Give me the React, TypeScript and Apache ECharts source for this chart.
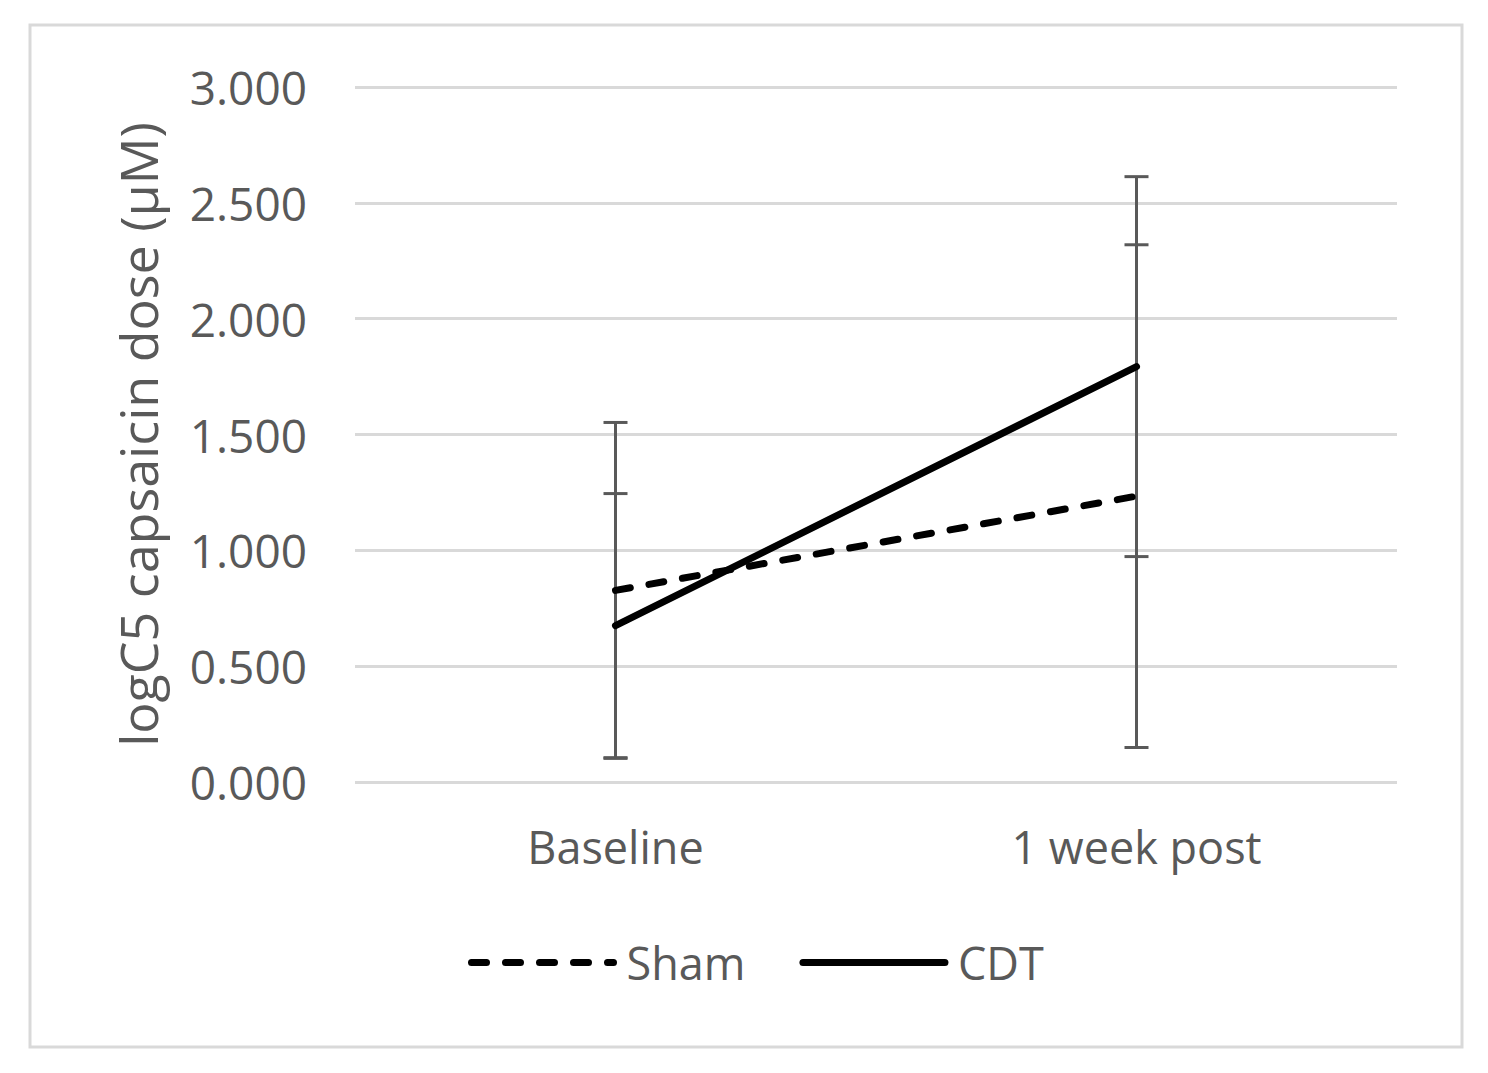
import React, { useEffect, useRef } from "react";
import * as echarts from "echarts";

const categories = ["Baseline", "1 week post"];
const shamMean = [0.827, 1.234];
const shamErr = [0.725, 1.085];
const cdtMean = [0.675, 1.793];
const cdtErr = [0.57, 0.82];
const yTicks = { min: 0, max: 3, interval: 0.5 };

const FONT = "Open Sans";
const GREY = "#595959";

export default function App() {
  const ref = useRef<HTMLDivElement>(null);
  useEffect(() => {
    const chart = echarts.init(ref.current!, undefined, { renderer: "svg" });
    const errData = [
      ...shamMean.map((m, i) => [i, m - shamErr[i], m + shamErr[i]]),
      ...cdtMean.map((m, i) => [i, m - cdtErr[i], m + cdtErr[i]]),
    ];
    const errStyle = { stroke: GREY, lineWidth: 3 };
    chart.setOption({
      animation: false,
      textStyle: { fontFamily: FONT },
      graphic: [
        {
          type: "rect",
          shape: { x: 30, y: 25, width: 1432, height: 1022 },
          style: { fill: "none", stroke: "#d9d9d9", lineWidth: 3 },
        },
      ],
      grid: { left: 355, right: 91, top: 87, bottom: 291 },
      legend: {
        data: ["Sham", "CDT"],
        left: 463,
        top: 935,
        itemWidth: 142,
        itemHeight: 44,
        itemGap: 54,
        itemStyle: { opacity: 0 },
        lineStyle: { width: 7, cap: "round" },
        textStyle: { fontSize: 45, color: GREY, fontFamily: FONT, padding: [0, 0, 0, 8] },
      },
      xAxis: {
        type: "category",
        data: categories,
        axisLine: { show: false },
        axisTick: { show: false },
        axisLabel: { fontSize: 45, color: GREY, margin: 42, fontFamily: FONT },
      },
      yAxis: {
        type: "value",
        min: yTicks.min,
        max: yTicks.max,
        interval: yTicks.interval,
        axisLabel: {
          fontSize: 46,
          color: GREY,
          margin: 48,
          fontFamily: FONT,
          formatter: (v: number) => v.toFixed(3),
        },
        splitLine: { lineStyle: { color: "#d9d9d9", width: 3 } },
        name: "logC5 capsaicin dose (µM)",
        nameLocation: "middle",
        nameGap: 192,
        nameTextStyle: { fontSize: 52, color: GREY, fontFamily: FONT },
      },
      series: [
        {
          type: "custom",
          name: "errors",
          z: 1,
          data: errData,
          renderItem: (params: any, api: any) => {
            const x = api.value(0);
            const lo = api.coord([x, api.value(1)]);
            const hi = api.coord([x, api.value(2)]);
            const hw = 12;
            return {
              type: "group",
              children: [
                { type: "line", shape: { x1: lo[0], y1: lo[1], x2: hi[0], y2: hi[1] }, style: errStyle },
                { type: "line", shape: { x1: lo[0] - hw, y1: lo[1], x2: lo[0] + hw, y2: lo[1] }, style: errStyle },
                { type: "line", shape: { x1: hi[0] - hw, y1: hi[1], x2: hi[0] + hw, y2: hi[1] }, style: errStyle },
              ],
            };
          },
        },
        {
          type: "line",
          name: "Sham",
          z: 3,
          data: shamMean,
          symbol: "none",
          itemStyle: { color: "#000" },
          lineStyle: { color: "#000", width: 7, type: [15, 19], cap: "round" },
        },
        {
          type: "line",
          name: "CDT",
          z: 3,
          data: cdtMean,
          symbol: "none",
          itemStyle: { color: "#000" },
          lineStyle: { color: "#000", width: 7, type: "solid", cap: "round" },
        },
      ],
    });
    return () => chart.dispose();
  }, []);
  return (
    <div
      ref={ref}
      style={{ position: "absolute", left: 0, top: 0, width: 1488, height: 1073, background: "#fff" }}
    />
  );
}
